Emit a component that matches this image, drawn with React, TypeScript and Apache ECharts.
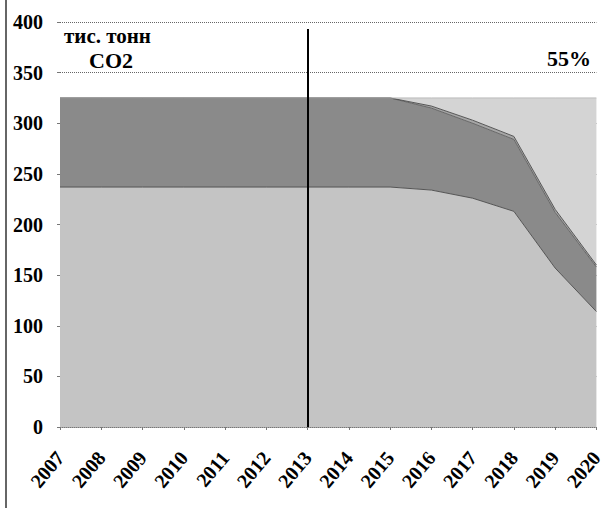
import React, { useEffect, useRef } from "react";
import * as echarts from "echarts";

const years = ["2007", "2008", "2009", "2010", "2011", "2012", "2013", "2014", "2015", "2016", "2017", "2018", "2019", "2020"];
const baseValues = [237, 237, 237, 237, 237, 237, 237, 237, 237, 234, 226, 213, 157, 114];
const reductionValues = [88, 88, 88, 88, 88, 88, 88, 88, 88, 81, 74, 71, 55, 44];
const edgeValues = [0, 0, 0, 0, 0, 0, 0, 0, 0, 2, 3, 3, 3, 2];
const gapValues = [0, 0, 0, 0, 0, 0, 0, 0, 0, 8, 22, 38, 110, 165];
const yTicks = [0, 50, 100, 150, 200, 250, 300, 350, 400];
const markYear = "2013";
const unitLine1 = "тис. тонн";
const unitLine2 = "CO2";
const percentLabel = "55%";

const FONT = "Liberation Serif";

export default function App() {
  const ref = useRef<HTMLDivElement>(null);
  useEffect(() => {
    if (!ref.current) return;
    const chart = echarts.init(ref.current, undefined, { renderer: "svg" });
    const area = (name: string, data: number[], color: string, lineColor: string, extra: any = {}) => ({
      name,
      type: "line",
      stack: "total",
      data,
      symbol: "none",
      lineStyle: { color: lineColor, width: 1 },
      areaStyle: { color, opacity: 1 },
      z: 2,
      ...extra,
    });
    chart.setOption({
      animation: false,
      backgroundColor: "#ffffff",
      grid: { left: 60, right: 3, top: 22, bottom: 84, containLabel: false },
      xAxis: {
        type: "category",
        data: years,
        boundaryGap: false,
        axisLine: { show: true, lineStyle: { color: "#777", type: "dotted", width: 1 } },
        axisTick: { show: true, alignWithLabel: true, length: 3, lineStyle: { color: "#777" } },
        axisLabel: {
          interval: 0,
          rotate: 50,
          margin: 27,
          fontFamily: FONT,
          fontWeight: "bold",
          fontSize: 20,
          color: "#000",
        },
        splitLine: { show: false },
      },
      yAxis: {
        type: "value",
        min: yTicks[0],
        max: yTicks[yTicks.length - 1],
        interval: 50,
        axisLine: { show: false },
        axisTick: { show: true, length: 3, lineStyle: { color: "#777" } },
        axisLabel: {
          margin: 17,
          fontFamily: FONT,
          fontWeight: "bold",
          fontSize: 20,
          color: "#000",
        },
        splitLine: { show: true, lineStyle: { color: "#666", type: "dotted", width: 1 } },
      },
      series: [
        area("base", baseValues, "#c4c4c4", "#555", {
          markLine: {
            silent: true,
            symbol: "none",
            label: { show: false },
            lineStyle: { color: "#000", width: 2, type: "solid" },
            data: [[{ coord: [markYear, 0] }, { coord: [markYear, 393] }]],
          },
        }),
        area("reduction", reductionValues, "#8a8a8a", "#666"),
        area("edge", edgeValues, "#a6a6a6", "#555"),
        area("gap", gapValues, "#d4d4d4", "#bbb"),
      ],
      graphic: [
        {
          type: "line",
          shape: { x1: 6, y1: 0, x2: 6, y2: 508 },
          style: { stroke: "#333", lineWidth: 1.5 },
        },
        {
          type: "text",
          x: 64,
          y: 36,
          style: { text: unitLine1, fontFamily: FONT, fontWeight: "bold", fontSize: 21, fill: "#000", verticalAlign: "middle" },
          z: 10,
        },
        {
          type: "text",
          x: 89,
          y: 60,
          style: { text: unitLine2, fontFamily: FONT, fontWeight: "bold", fontSize: 22, fill: "#000", verticalAlign: "middle" },
          z: 10,
        },
        {
          type: "text",
          x: 547,
          y: 58,
          style: { text: percentLabel, fontFamily: FONT, fontWeight: "bold", fontSize: 22, fill: "#000", verticalAlign: "middle" },
          z: 10,
        },
      ],
    });
    return () => chart.dispose();
  }, []);
  return <div ref={ref} style={{ width: 606, height: 511, position: "absolute", left: 0, top: 0 }} />;
}
